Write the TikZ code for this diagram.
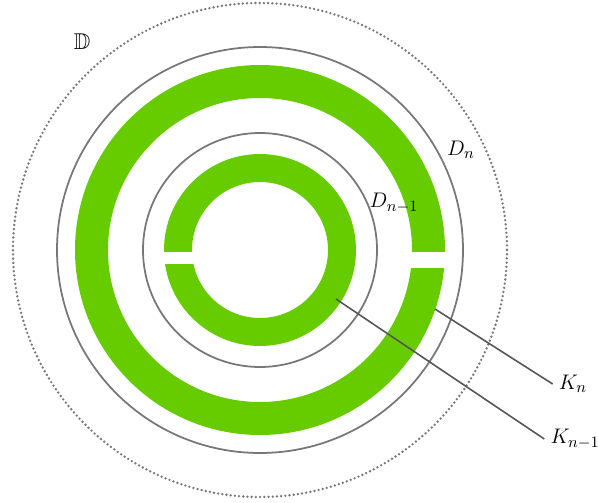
\documentclass[tikz,border=0pt]{standalone}
\usepackage{amsmath}
\usepackage{amssymb}
\usepackage{xcolor}
\usepackage{tikz}
\usetikzlibrary{calc}
\definecolor{ringgreen}{HTML}{66CC00}
\definecolor{circgray}{HTML}{777777}
\definecolor{leadgray}{HTML}{555555}

\begin{document}
\begin{tikzpicture}[x=0.02cm,y=-0.02cm, every node/.style={font=\fontsize{13}{15}\selectfont}]
    \tikzstyle{ring}=[fill=ringgreen,even odd rule]
    \tikzstyle{disk}=[draw=circgray,line width=1pt]
    \tikzstyle{gap}=[fill=white]
    \tikzstyle{lead}=[draw=leadgray,line width=0.9pt]
    \useasboundingbox (0,0) rectangle (598,503);
    \coordinate (o) at (260,250);
    % the unit disc
    \draw[circgray,line width=1.5pt,line cap=round,dash pattern=on 0pt off 2.4pt] (o) circle (247);
    % the two slit annuli
    \path[ring] (o) circle (185) circle (152);
    \path[gap] (400,252) rectangle (455,268);
    \path[ring] (o) circle (96) circle (68);
    \path[gap] (158,252) rectangle (200,264);
    \draw[disk] (o) circle (203);
    \draw[disk] (o) circle (117);
    \node (bbD) at (82,42) {$\mathbb{D}$};
    \node (Dn) at (461,150) {$D_n$};
    \node (Dnm) at (394,203) {$D_{n-1}$};
    \node (Kn) at (573,384) {$K_n$};
    \node (Knm) at (575,439) {$K_{n-1}$};
    \coordinate (kn) at (435,309);
    \coordinate (knm) at (336,299);
    \draw[lead] (kn) -- (Kn.west);
    \draw[lead] (knm) -- (Knm.west);
\end{tikzpicture}
\end{document}
